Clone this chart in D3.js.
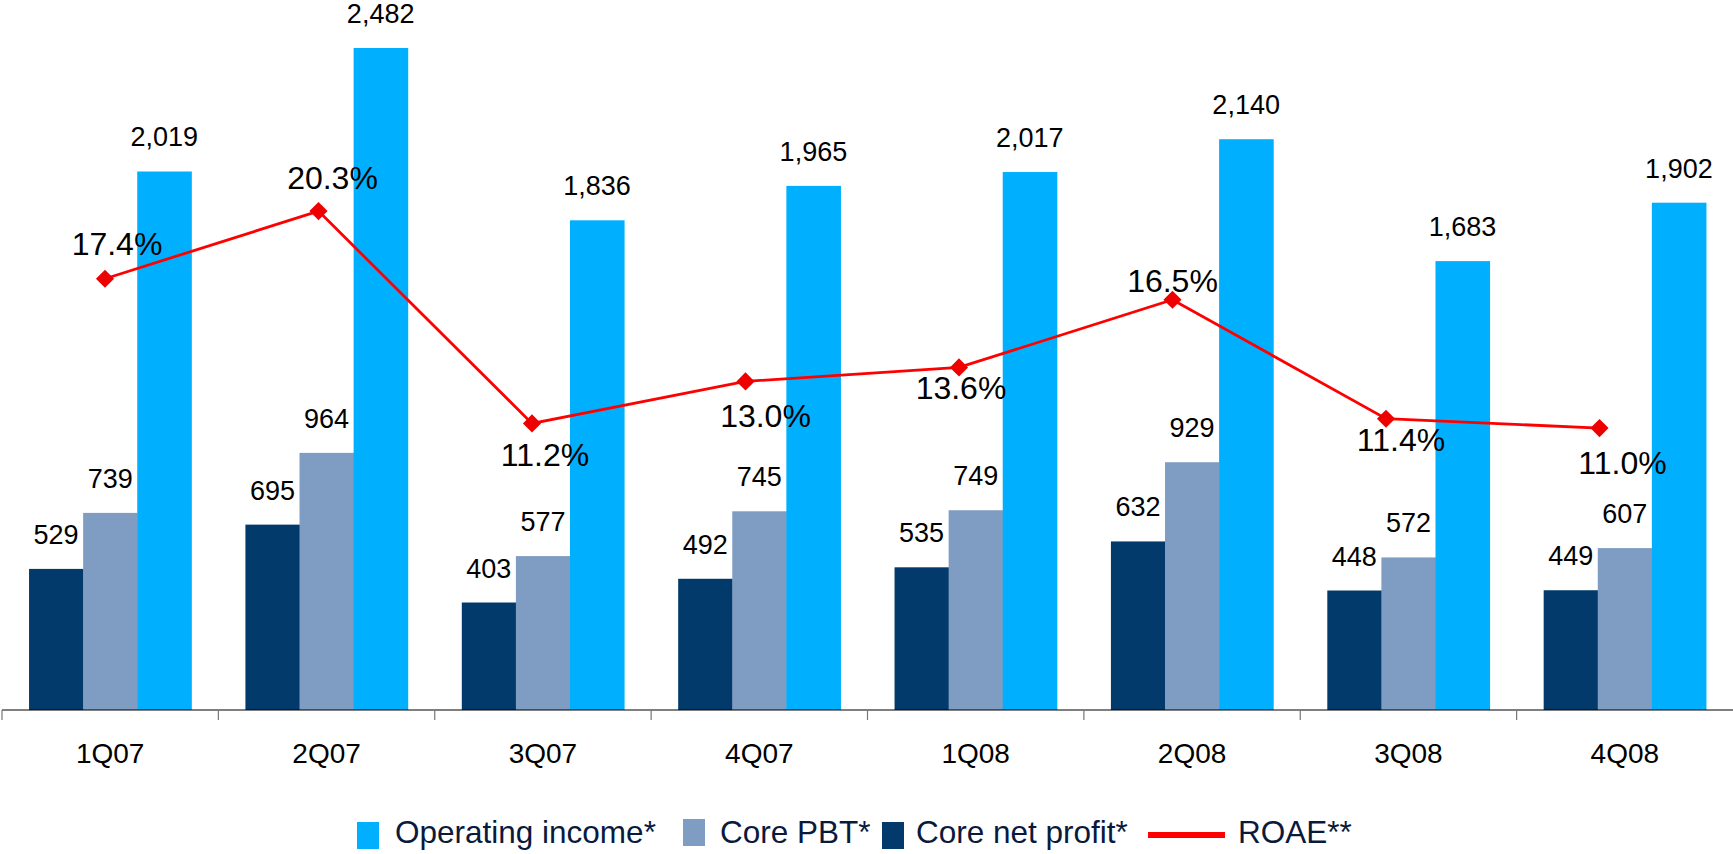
<!DOCTYPE html>
<html>
<head>
<meta charset="utf-8">
<script src="https://cdn.jsdelivr.net/npm/d3@7"></script>
<style>
  body { margin: 0; background: #fff; }
  svg { display: block; font-family: Arial, "Liberation Sans", sans-serif; }
</style>
</head>
<body>
<div id="vis-container"></div>
<script>
// chart data
const categories = ["1Q07", "2Q07", "3Q07", "4Q07", "1Q08", "2Q08", "3Q08", "4Q08"];
const coreNetProfit = [529, 695, 403, 492, 535, 632, 448, 449];
const corePBT = [739, 964, 577, 745, 749, 929, 572, 607];
const operatingIncome = [2019, 2482, 1836, 1965, 2017, 2140, 1683, 1902];
const roae = [17.4, 20.3, 11.2, 13.0, 13.6, 16.5, 11.4, 11.0];

// where each ROAE label sits relative to its marker [dx, dy]
const roaeLabelOffset = [[12, -24], [14, -22], [13, 43], [20, 46], [2, 32], [0, -8], [15, 32], [23, 46]];

const width = 1733;
const height = 854;
const baseY = 710;

const series = [
  { key: "net", name: "Core net profit*", values: coreNetProfit, color: "#023A6B" },
  { key: "pbt", name: "Core PBT*", values: corePBT, color: "#7F9CC3" },
  { key: "op", name: "Operating income*", values: operatingIncome, color: "#00B0FF" }
];

const svg = d3.select("#vis-container")
  .append("svg")
  .attr("width", width)
  .attr("height", height);

// scales
const x0 = d3.scaleBand()
  .domain(categories)
  .range([2, 1733])
  .paddingInner(0.25)
  .paddingOuter(0.125);

const x1 = d3.scaleBand()
  .domain(series.map(s => s.key))
  .range([0, x0.bandwidth()]);

const y = d3.scaleLinear()
  .domain([0, 2482])
  .range([baseY, 48]);

// ROAE uses its own (secondary) axis
const xLine = d3.scalePoint()
  .domain(categories)
  .range([105, 1599.5]);

const yLine = d3.scaleLinear()
  .domain([0, 20])
  .range([684.7, 218.1]);

// bars
const groups = svg.append("g")
  .selectAll("g")
  .data(categories)
  .join("g")
  .attr("transform", d => `translate(${x0(d)},0)`);

groups.selectAll("rect")
  .data((c, i) => series.map(s => ({ key: s.key, value: s.values[i], color: s.color })))
  .join("rect")
  .attr("x", d => x1(d.key))
  .attr("y", d => y(d.value))
  .attr("width", x1.bandwidth() + 0.5)
  .attr("height", d => baseY - y(d.value))
  .attr("fill", d => d.color);

// bar value labels
groups.selectAll("text")
  .data((c, i) => series.map(s => ({ key: s.key, value: s.values[i] })))
  .join("text")
  .attr("x", d => x1(d.key) + x1.bandwidth() / 2)
  .attr("y", d => y(d.value) - 25)
  .attr("text-anchor", "middle")
  .attr("font-size", "27px")
  .attr("fill", "#000")
  .text(d => d3.format(",")(d.value));

// x-axis
const xAxis = svg.append("g")
  .attr("transform", `translate(0,${baseY})`);

xAxis.append("line")
  .attr("x1", 2)
  .attr("x2", width)
  .attr("stroke", "#000")
  .attr("stroke-width", 1.2);

xAxis.selectAll(".tick-mark")
  .data(categories)
  .join("line")
  .attr("class", "tick-mark")
  .attr("x1", d => x0(d) - x0.step() * 0.125)
  .attr("x2", d => x0(d) - x0.step() * 0.125)
  .attr("y1", 0)
  .attr("y2", 10)
  .attr("stroke", "#777")
  .attr("stroke-width", 1.2);

xAxis.selectAll(".cat-label")
  .data(categories)
  .join("text")
  .attr("class", "cat-label")
  .attr("x", d => x0(d) + x0.bandwidth() / 2)
  .attr("y", 53)
  .attr("text-anchor", "middle")
  .attr("font-size", "28px")
  .attr("fill", "#000")
  .text(d => d);

// ROAE line
const line = d3.line()
  .x((d, i) => xLine(categories[i]))
  .y(d => yLine(d));

svg.append("path")
  .datum(roae)
  .attr("fill", "none")
  .attr("stroke", "#FF0000")
  .attr("stroke-width", 2.8)
  .attr("d", line);

svg.append("g")
  .selectAll("path")
  .data(roae)
  .join("path")
  .attr("d", d3.symbol(d3.symbolSquare, 165))
  .attr("transform", (d, i) => `translate(${xLine(categories[i])},${yLine(d)}) rotate(45)`)
  .attr("fill", "#EE0000");

svg.append("g")
  .selectAll("text")
  .data(roae)
  .join("text")
  .attr("x", (d, i) => xLine(categories[i]) + roaeLabelOffset[i][0])
  .attr("y", (d, i) => yLine(d) + roaeLabelOffset[i][1])
  .attr("text-anchor", "middle")
  .attr("font-size", "32px")
  .attr("fill", "#000")
  .text(d => d3.format(".1f")(d) + "%");

// legend
const legendItems = [
  { name: "Operating income*", color: "#00B0FF", type: "rect", x: 357, y: 822, tx: 395 },
  { name: "Core PBT*", color: "#7F9CC3", type: "rect", x: 683, y: 819, tx: 720 },
  { name: "Core net profit*", color: "#023A6B", type: "rect", x: 882, y: 822, tx: 916 },
  { name: "ROAE**", color: "#FF0000", type: "line", x: 1148, y: 835, tx: 1238 }
];

const legend = svg.append("g");

legend.selectAll("rect")
  .data(legendItems.filter(d => d.type === "rect"))
  .join("rect")
  .attr("x", d => d.x)
  .attr("y", d => d.y)
  .attr("width", 22)
  .attr("height", 27)
  .attr("fill", d => d.color);

legend.selectAll("line")
  .data(legendItems.filter(d => d.type === "line"))
  .join("line")
  .attr("x1", d => d.x)
  .attr("x2", d => d.x + 77)
  .attr("y1", d => d.y)
  .attr("y2", d => d.y)
  .attr("stroke", d => d.color)
  .attr("stroke-width", 6);

legend.selectAll("text")
  .data(legendItems)
  .join("text")
  .attr("x", d => d.tx)
  .attr("y", 843)
  .attr("font-size", "31.5px")
  .attr("fill", "#0A1A3C")
  .text(d => d.name);
</script>
</body>
</html>
